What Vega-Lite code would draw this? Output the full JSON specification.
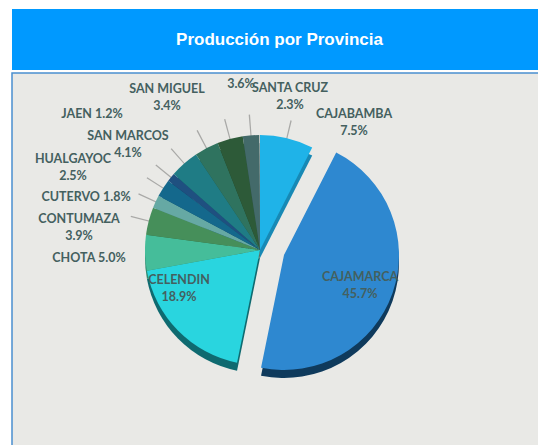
{
"$schema":"https://vega.github.io/schema/vega-lite/v6.json",
"background":"white",
"padding":{"left":11,"top":9,"right":0,"bottom":0},
"spacing":2,
"config":{"view":{"stroke":null},"concat":{"spacing":2}},
"vconcat":[
{"width":527,"height":61,"view":{"fill":"#0099ff","stroke":null},
 "data":{"values":[{"titulo":"Producción por Provincia"}]},
 "mark":{"type":"text","color":"white","font":"Liberation Sans","fontWeight":"bold","fontSize":17,"dx":4},
 "encoding":{"text":{"field":"titulo"}}},
{"width":527,"height":373,"view":{"fill":"#e9e9e6","stroke":"#4a8fd0","strokeWidth":1.5},
 "data":{"values":[
{"provincia":"CAJABAMBA","pct":7.5,"etiqueta":"CAJABAMBA\n7.5%","destacada":"no"},
{"provincia":"CAJAMARCA","pct":45.7,"etiqueta":"CAJAMARCA\n45.7%","destacada":"si"},
{"provincia":"CELENDIN","pct":18.9,"etiqueta":"CELENDIN\n18.9%","destacada":"no"},
{"provincia":"CHOTA","pct":5.0,"etiqueta":"CHOTA 5.0%","destacada":"no"},
{"provincia":"CONTUMAZA","pct":3.9,"etiqueta":"CONTUMAZA\n3.9%","destacada":"no"},
{"provincia":"CUTERVO","pct":1.8,"etiqueta":"CUTERVO 1.8%","destacada":"no"},
{"provincia":"HUALGAYOC","pct":2.5,"etiqueta":"HUALGAYOC\n2.5%","destacada":"no"},
{"provincia":"JAEN","pct":1.2,"etiqueta":"JAEN 1.2%","destacada":"no"},
{"provincia":"SAN MARCOS","pct":4.1,"etiqueta":"SAN MARCOS\n4.1%","destacada":"no"},
{"provincia":"SAN MIGUEL","pct":3.4,"etiqueta":"SAN MIGUEL\n3.4%","destacada":"no"},
{"provincia":"SAN PABLO","pct":3.6,"etiqueta":"3.6%","destacada":"no"},
{"provincia":"SANTA CRUZ","pct":2.3,"etiqueta":"SANTA CRUZ\n2.3%","destacada":"no"}
 ]},
 "transform":[
  {"window":[{"op":"sum","field":"pct","as":"fin"}],"frame":[null,0]},
  {"calculate":"datum.fin-datum.pct","as":"inicio"},
  {"calculate":"datum.fin-datum.pct/2-0.08","as":"medio1"},
  {"calculate":"datum.fin-datum.pct/2+0.08","as":"medio2"}
 ],
 "resolve":{"scale":{"x":"independent","y":"independent","color":"independent","theta":"independent","radius":"independent"}},
 "layer":[
  {"mark":{"type":"arc","radius":115},
   "encoding":{
    "theta":{"field":"inicio","type":"quantitative","stack":null,"scale":{"domain":[0,100],"range":[0,6.28319]}},
    "theta2":{"field":"fin"},
    "x":{"field":"destacada","type":"nominal","axis":null,"scale":{"domain":["no","si"],"range":[248,272],"padding":0}},
    "y":{"field":"destacada","type":"nominal","axis":null,"scale":{"domain":["no","si"],"range":[185,190],"padding":0}},
    "color":{"field":"provincia","type":"nominal","legend":null,"sort":null,"scale":{"domain":["CAJABAMBA","CAJAMARCA","CELENDIN","CHOTA","CONTUMAZA","CUTERVO","HUALGAYOC","JAEN","SAN MARCOS","SAN MIGUEL","SAN PABLO","SANTA CRUZ"],"range":["#1789b5","#0f3a5c","#0f6a70","#2f8a70","#2f6a42","#4a807c","#0e4f6a","#153b60","#155c63","#205648","#1e4228","#2f4f4f"]}}}},
  {"transform":[{"filter":"datum.provincia!='CAJAMARCA'&&datum.provincia!='CELENDIN'&&datum.provincia!='CHOTA'"}],
   "mark":{"type":"arc","color":"#a9a9a7"},
   "encoding":{
    "theta":{"field":"medio1","type":"quantitative","stack":null,"scale":{"domain":[0,100],"range":[0,6.28319]}},
    "theta2":{"field":"medio2"},
    "radius":{"field":"provincia","type":"nominal","scale":{"type":"ordinal","domain":["CAJABAMBA","CONTUMAZA","CUTERVO","HUALGAYOC","JAEN","SAN MARCOS","SAN MIGUEL","SAN PABLO","SANTA CRUZ"],"range":[133,136,133,165,178,138,148,150,135]}},
    "radius2":{"value":100},
    "x":{"field":"destacada","type":"nominal","axis":null,"scale":{"domain":["no","si"],"range":[248,272],"padding":0}},
    "y":{"field":"destacada","type":"nominal","axis":null,"scale":{"domain":["no","si"],"range":[177,182],"padding":0}}}},
  {"mark":{"type":"arc","radius":115},
   "encoding":{
    "theta":{"field":"inicio","type":"quantitative","stack":null,"scale":{"domain":[0,100],"range":[0,6.28319]}},
    "theta2":{"field":"fin"},
    "x":{"field":"destacada","type":"nominal","axis":null,"scale":{"domain":["no","si"],"range":[248,272],"padding":0}},
    "y":{"field":"destacada","type":"nominal","axis":null,"scale":{"domain":["no","si"],"range":[177,182],"padding":0}},
    "color":{"field":"provincia","type":"nominal","legend":null,"sort":null,"scale":{"domain":["CAJABAMBA","CAJAMARCA","CELENDIN","CHOTA","CONTUMAZA","CUTERVO","HUALGAYOC","JAEN","SAN MARCOS","SAN MIGUEL","SAN PABLO","SANTA CRUZ"],"range":["#1fb3e8","#2e88d0","#29d5df","#45bd9a","#468f5a","#66a9a4","#14688c","#1f5080","#1f7c85","#2f735f","#2d5a38","#436a6a"]}}}},
  {"mark":{"type":"text","font":"Lato","fontWeight":"bold","fontSize":12.5,"color":"#44605f","lineBreak":"\n","lineHeight":17,"baseline":"middle"},
   "encoding":{
    "text":{"field":"etiqueta"},
    "x":{"field":"fin","type":"quantitative","axis":null,"scale":{"domain":[7.5,53.2,72.1,77.1,81,82.8,85.3,86.5,90.6,94,97.6,99.9],"range":[342,348,167,77,67,74,61,80,116,155,229,278],"nice":false,"zero":false}},
    "y":{"field":"fin","type":"quantitative","axis":null,"scale":{"domain":[7.5,53.2,72.1,77.1,81,82.8,85.3,86.5,90.6,94,97.6,99.9],"range":[41,204,207,185,146,124,86,41,63,16,11,15],"nice":false,"zero":false}}}}
 ]}
]}
